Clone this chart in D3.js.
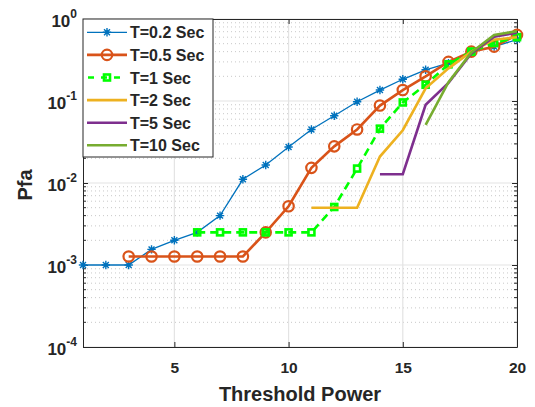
<!DOCTYPE html>
<html>
<head>
<meta charset="utf-8">
<script src="https://cdn.jsdelivr.net/npm/d3@7"></script>
<style>
  body { margin: 0; background: #fff; }
  text { font-family: "Liberation Sans", Arial, sans-serif; font-weight: bold; fill: #262626; }
</style>
</head>
<body>
<svg id="chart" width="535" height="407"></svg>
<script>
// threshold power values (x)
var thresholds = [1,2,3,4,5,6,7,8,9,10,11,12,13,14,15,16,17,18,19,20]

// Pfa for each integration time, null = not plotted
var pfaT02 = [1e-3,1e-3,1e-3,1.55e-3,2.0e-3,2.5e-3,4.0e-3,1.11e-2,1.66e-2,2.75e-2,4.5e-2,6.6e-2,9.8e-2,0.136,0.184,0.24,0.29,0.40,0.46,0.56]
var pfaT05 = [null,null,1.27e-3,1.27e-3,1.27e-3,1.27e-3,1.27e-3,1.27e-3,2.5e-3,5.2e-3,1.53e-2,2.8e-2,4.5e-2,8.8e-2,0.136,0.20,0.30,0.40,0.46,0.64]
var pfaT1 = [null,null,null,null,null,2.5e-3,2.5e-3,2.5e-3,2.5e-3,2.5e-3,2.5e-3,5.1e-3,1.5e-2,4.6e-2,9.6e-2,0.158,0.28,0.40,0.51,0.60]
var pfaT2 = [null,null,null,null,null,null,null,null,null,null,5e-3,5e-3,5e-3,2.1e-2,4.4e-2,0.143,0.25,0.40,0.56,0.60]
var pfaT5 = [null,null,null,null,null,null,null,null,null,null,null,null,null,1.28e-2,1.28e-2,0.09,0.166,0.38,0.61,0.68]
var pfaT10 = [null,null,null,null,null,null,null,null,null,null,null,null,null,null,null,5.1e-2,0.17,0.39,0.64,0.71]

var seriesNames = ['T=0.2 Sec','T=0.5 Sec','T=1 Sec','T=2 Sec','T=5 Sec','T=10 Sec']
var xTicks = [5,10,15,20]
var yTicks = [1e-4,1e-3,1e-2,1e-1,1]
var yExponents = ['-4','-3','-2','-1','0']

var series = [
  {name: seriesNames[0], values: pfaT02, color: '#0072BD', width: 1.3, marker: 'star', dash: null},
  {name: seriesNames[1], values: pfaT05, color: '#D95319', width: 2.6, marker: 'circle', dash: null},
  {name: seriesNames[2], values: pfaT1, color: '#00FF00', width: 2.6, marker: 'square', dash: '8,5'},
  {name: seriesNames[3], values: pfaT2, color: '#EDB120', width: 2.6, marker: null, dash: null},
  {name: seriesNames[4], values: pfaT5, color: '#7E2F8E', width: 2.6, marker: null, dash: null},
  {name: seriesNames[5], values: pfaT10, color: '#77AC30', width: 2.6, marker: null, dash: null}
]

var svg = d3.select('#chart')
var padding = {l: 83, r: 18, t: 19, b: 60}
var svgWidth = +svg.attr('width')
var svgHeight = +svg.attr('height')
var chartWidth = svgWidth - padding.l - padding.r
var chartHeight = svgHeight - padding.t - padding.b

var xScale = d3.scaleLinear().domain([1, 20]).range([0, chartWidth])
var yScale = d3.scaleLog().domain([1e-4, 1]).range([chartHeight, 0])

var g = svg.append('g').attr('transform', 'translate(' + padding.l + ',' + padding.t + ')')

// minor y grid (dotted)
var minorY = []
for (var e = -4; e < 0; e++) {
  for (var m = 2; m <= 9; m++) minorY.push(m * Math.pow(10, e))
}
g.selectAll('.minor-grid').data(minorY).enter().append('line')
  .attr('x1', 0).attr('x2', chartWidth)
  .attr('y1', function(d){ return yScale(d) }).attr('y2', function(d){ return yScale(d) })
  .attr('stroke', '#c8c8c8').attr('stroke-width', 1).attr('stroke-dasharray', '1,3')

// major grid
g.selectAll('.ygrid').data(yTicks).enter().append('line')
  .attr('x1', 0).attr('x2', chartWidth)
  .attr('y1', function(d){ return yScale(d) }).attr('y2', function(d){ return yScale(d) })
  .attr('stroke', '#e3e3e3').attr('stroke-width', 1.2)
g.selectAll('.xgrid').data(xTicks).enter().append('line')
  .attr('y1', 0).attr('y2', chartHeight)
  .attr('x1', function(d){ return xScale(d) }).attr('x2', function(d){ return xScale(d) })
  .attr('stroke', '#e3e3e3').attr('stroke-width', 1.2)

// axes
var xAxis = g.append('g').attr('transform', 'translate(0,' + chartHeight + ')')
  .call(d3.axisBottom(xScale).tickValues(xTicks).tickSizeInner(-5).tickSizeOuter(0).tickFormat(d3.format('d')))
xAxis.selectAll('text').attr('dy', null).attr('y', 26).style('font-size', '15.5px')
var xAxisTop = g.append('g')
  .call(d3.axisTop(xScale).tickValues(xTicks).tickSizeInner(-5).tickSizeOuter(0).tickFormat(''))
var yAxis = g.append('g')
  .call(d3.axisLeft(yScale).tickValues(yTicks).tickSizeInner(-5).tickSizeOuter(0).tickFormat(''))
var yAxisRight = g.append('g').attr('transform', 'translate(' + chartWidth + ',0)')
  .call(d3.axisRight(yScale).tickValues(yTicks).tickSizeInner(-5).tickSizeOuter(0).tickFormat(''))
g.selectAll('.domain').attr('stroke', '#262626')
g.selectAll('.tick line').attr('stroke', '#262626')

// minor y ticks
g.selectAll('.minor-tick-l').data(minorY).enter().append('line')
  .attr('x1', 0).attr('x2', 3)
  .attr('y1', function(d){ return yScale(d) }).attr('y2', function(d){ return yScale(d) })
  .attr('stroke', '#262626')
g.selectAll('.minor-tick-r').data(minorY).enter().append('line')
  .attr('x1', chartWidth - 3).attr('x2', chartWidth)
  .attr('y1', function(d){ return yScale(d) }).attr('y2', function(d){ return yScale(d) })
  .attr('stroke', '#262626')

// y tick labels 10^n
var yLab = g.selectAll('.ylab').data(yTicks).enter().append('text')
  .attr('x', -6).attr('y', function(d){ return yScale(d) + 8 })
  .attr('text-anchor', 'end')
yLab.append('tspan').style('font-size', '17px').text('10')
yLab.append('tspan').style('font-size', '12px').attr('dy', -9)
  .text(function(d, i){ return yExponents[i] })

// lines
var line = d3.line()
  .defined(function(d){ return d[1] != null })
  .x(function(d){ return xScale(d[0]) })
  .y(function(d){ return yScale(d[1]) })

function starPath(r) {
  var a = r * 0.7071
  return 'M' + (-r) + ',0L' + r + ',0M0,' + (-r) + 'L0,' + r +
    'M' + (-a) + ',' + (-a) + 'L' + a + ',' + a + 'M' + (-a) + ',' + a + 'L' + a + ',' + (-a)
}

function drawMarker(sel, s) {
  if (s.marker == 'star') {
    sel.append('path').attr('d', starPath(4.2)).attr('stroke', s.color).attr('stroke-width', 1.4).attr('fill', 'none')
  } else if (s.marker == 'circle') {
    sel.append('circle').attr('r', 5.2).attr('stroke', s.color).attr('stroke-width', 2.2).attr('fill', 'none')
  } else if (s.marker == 'square') {
    sel.append('rect').attr('x', -3).attr('y', -3).attr('width', 6).attr('height', 6)
      .attr('stroke', s.color).attr('stroke-width', 2.6).attr('fill', 'none')
  }
}

var plot = g.append('g')
series.forEach(function(s) {
  var pts = thresholds.map(function(t, i){ return [t, s.values[i]] })
  plot.append('path').datum(pts)
    .attr('d', line)
    .attr('fill', 'none')
    .attr('stroke', s.color)
    .attr('stroke-width', s.width)
    .attr('stroke-dasharray', s.dash)
  if (s.marker) {
    plot.selectAll(null).data(pts.filter(function(d){ return d[1] != null })).enter()
      .append('g')
      .attr('transform', function(d){ return 'translate(' + xScale(d[0]) + ',' + yScale(d[1]) + ')' })
      .each(function(){ drawMarker(d3.select(this), s) })
  }
})

// axis labels
svg.append('text')
  .attr('x', padding.l + chartWidth / 2).attr('y', 401)
  .attr('text-anchor', 'middle').style('font-size', '20px')
  .text('Threshold Power')
svg.append('text')
  .attr('transform', 'translate(32,' + (padding.t + yScale(1e-2) + 2) + ') rotate(-90)')
  .attr('text-anchor', 'middle').style('font-size', '20px')
  .text('Pfa')

// legend
var legend = g.append('g')
legend.append('rect').attr('x', 0).attr('y', 0).attr('width', 130).attr('height', 138)
  .attr('fill', '#fff').attr('stroke', '#262626').attr('stroke-width', 1)
var items = legend.selectAll('.item').data(series).enter().append('g')
  .attr('transform', function(d, i){ return 'translate(0,' + (13.3 + i * 22.6) + ')' })
items.append('line').attr('x1', 4).attr('x2', 44).attr('y1', 0).attr('y2', 0)
  .attr('stroke', function(d){ return d.color })
  .attr('stroke-width', function(d){ return d.width })
  .attr('stroke-dasharray', function(d){ return d.dash ? '6,7' : null })
  .attr('stroke-dashoffset', function(d){ return d.dash ? -1 : null })
items.append('g').attr('transform', 'translate(24,0)')
  .each(function(d){ drawMarker(d3.select(this), d) })
items.append('text').attr('x', 47).attr('y', 6)
  .style('font-size', '16px')
  .text(function(d){ return d.name })
</script>
</body>
</html>
